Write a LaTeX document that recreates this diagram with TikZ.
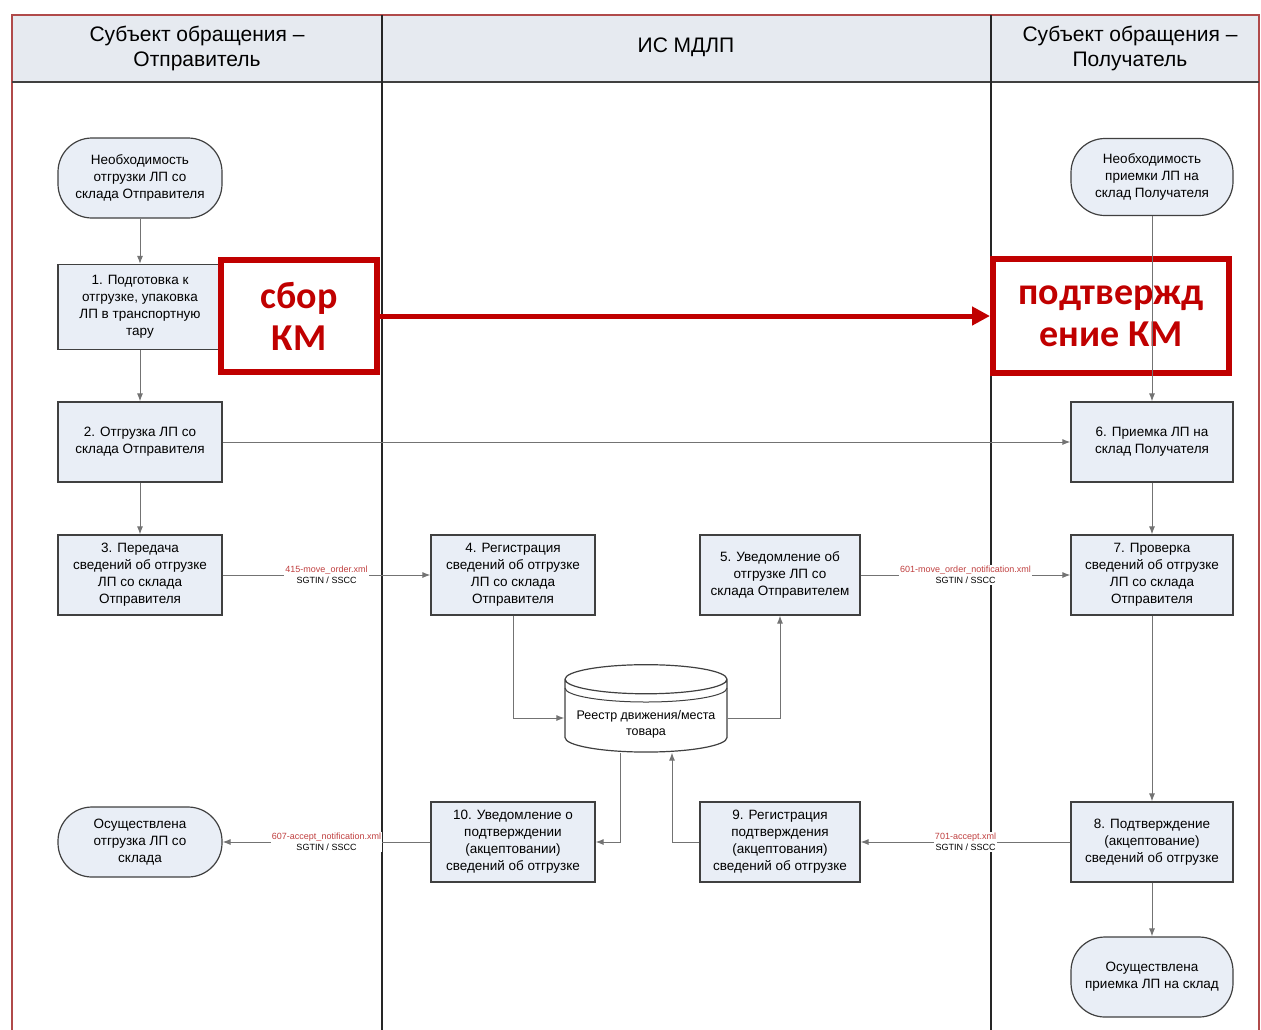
\documentclass[tikz,border=0pt]{standalone}
\usepackage{fontspec}
\setmainfont{Liberation Sans}
\newfontfamily\kmfont{Carlito}
\usetikzlibrary{arrows.meta, shapes.geometric}

\definecolor{boxfill}{HTML}{E9EEF6}
\definecolor{headfill}{HTML}{E6EAF0}
\definecolor{kmred}{HTML}{C00000}
\definecolor{framered}{HTML}{B04A4A}
\definecolor{xmlred}{HTML}{C04040}

\tikzset{
    stepbox/.style={draw=black!75, fill=boxfill, line width=1.2pt, minimum width=164pt, minimum height=80pt,
        align=center, inner sep=2pt, font=\fontsize{13.5}{17}\selectfont},
    termbox/.style={stepbox, rounded corners=34pt},
    flow/.style={draw=black!55, line width=1pt, -{Latex[length=8pt,width=6pt]}},
    msg/.style={fill=white, align=center, inner sep=1pt, font=\fontsize{9}{11}\selectfont},
    kmbox/.style={draw=kmred, line width=6pt, align=center, text=kmred,
        font=\kmfont\bfseries\fontsize{38}{42}\selectfont},
    lanehead/.style={font=\fontsize{21}{25}\selectfont, align=center}
}

\begin{document}
\begin{tikzpicture}[x=1pt, y=-1pt]
    \useasboundingbox (0,0) rectangle (1261,1029);

    \fill[headfill] (12,15) rectangle (1259,82);
    \draw[framered, line width=1.5pt] (12,1040) -- (12,15) -- (1259,15) -- (1259,1040);
    \draw[black!75, line width=1.5pt] (12,82) -- (1259,82);
    \draw[black!85, line width=1.3pt] (382,15) -- (382,1040);
    \draw[black!85, line width=1.3pt] (991,15) -- (991,1040);

    \node[lanehead] (hsend) at (197,48) {Субъект обращения –\\Отправитель};
    \node[lanehead] (hmdlp) at (686,47) {ИС МДЛП};
    \node[lanehead] (hrecv) at (1130,48) {Субъект обращения –\\Получатель};

    \node[termbox] (need1) at (140,178) {Необходимость\\отгрузки ЛП со\\склада Отправителя};
    \node[stepbox, minimum height=85pt] (s1) at (140,307) {1. Подготовка к\\отгрузке, упаковка\\ЛП в транспортную\\тару};
    \node[stepbox] (s2) at (140,442) {2. Отгрузка ЛП со\\склада Отправителя};
    \node[stepbox] (s3) at (140,575) {3. Передача\\сведений об отгрузке\\ЛП со склада\\Отправителя};
    \node[termbox, minimum height=70pt] (done1) at (140,842) {Осуществлена\\отгрузка ЛП со\\склада};

    \node[stepbox] (s4) at (513,575) {4. Регистрация\\сведений об отгрузке\\ЛП со склада\\Отправителя};
    \node[stepbox, minimum width=160pt] (s5) at (780,575) {5. Уведомление об\\отгрузке ЛП со\\склада Отправителем};
    \node[cylinder, shape border rotate=90, draw=black!75, fill=white, line width=1.2pt, minimum width=162pt,
        minimum height=80pt, aspect=0.2, align=center, font=\fontsize{12.5}{16}\selectfont] (reg) at (646,718)
        {\\[6pt]Реестр движения/места\\товара};
    \draw[black!75, line width=1pt] (565,688) arc[start angle=180, end angle=0, x radius=81, y radius=14];
    \node[stepbox] (s10) at (513,842) {10. Уведомление о\\подтверждении\\(акцептовании)\\сведений об отгрузке};
    \node[stepbox, minimum width=160pt] (s9) at (780,842) {9. Регистрация\\подтверждения\\(акцептования)\\сведений об отгрузке};

    \node[termbox, minimum width=162pt, minimum height=77pt] (need2) at (1152,177) {Необходимость\\приемки ЛП на\\склад Получателя};
    \node[stepbox, minimum width=162pt] (s6) at (1152,442) {6. Приемка ЛП на\\склад Получателя};
    \node[stepbox, minimum width=162pt] (s7) at (1152,575) {7. Проверка\\сведений об отгрузке\\ЛП со склада\\Отправителя};
    \node[stepbox, minimum width=162pt] (s8) at (1152,842) {8. Подтверждение\\(акцептование)\\сведений об отгрузке};
    \node[termbox, minimum width=162pt] (done2) at (1152,977) {Осуществлена\\приемка ЛП на склад};

    \node[kmbox, minimum width=156pt, minimum height=112pt] (kmsbor) at (299,316) {сбор\\КМ};
    \node[kmbox, minimum width=236pt, minimum height=114pt] (kmconf) at (1111,316) {подтвержд\\ение КМ};
    \draw[kmred, line width=5pt, -{Triangle[length=18pt,width=18pt]}] (kmsbor) -- (kmconf);

    \draw[flow] (need1) -- (s1);
    \draw[flow] (s1) -- (s2);
    \draw[flow] (s2) -- (s3);
    \draw[flow] (s2) -- (s6);
    \draw[flow] (s3) -- node[msg] {\textcolor{xmlred}{415-move\_order.xml}\\SGTIN / SSCC} (s4);
    \draw[flow] (s4.south) |- (reg.west);
    \draw[flow] (reg.east) -| (s5.south);
    \draw[flow] (s5) -- node[msg] {\textcolor{xmlred}{601-move\_order\_notification.xml}\\SGTIN / SSCC} (s7);

    \draw[flow] (need2) -- (s6);
    \draw[flow] (s6) -- (s7);
    \draw[flow] (s7) -- (s8);
    \draw[flow] (s8) -- (done2);
    \draw[flow] (s8) -- node[msg] {\textcolor{xmlred}{701-accept.xml}\\SGTIN / SSCC} (s9);
    \draw[flow] (s9.west) -| ([xshift=26pt]reg.south);
    \draw[flow] ([xshift=-26pt]reg.south) |- (s10.east);
    \draw[flow] (s10) -- node[msg] {\textcolor{xmlred}{607-accept\_notification.xml}\\SGTIN / SSCC} (done1);
\end{tikzpicture}
\end{document}
